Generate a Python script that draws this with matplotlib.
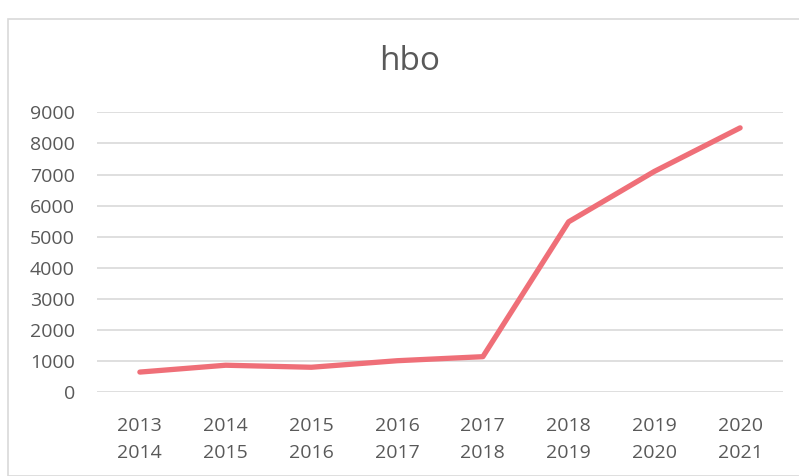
import matplotlib
matplotlib.use("Agg")
import matplotlib.pyplot as plt
from matplotlib.patches import Rectangle

categories = ["2013\n2014", "2014\n2015", "2015\n2016", "2016\n2017",
              "2017\n2018", "2018\n2019", "2019\n2020", "2020\n2021"]
values = [650, 870, 805, 1015, 1145, 5480, 7100, 8500]
y_ticks = list(range(0, 10000, 1000))

plt.rcParams['font.family'] = ['Open Sans', 'DejaVu Sans']
text_color = "#595959"

fig = plt.figure(figsize=(7.99, 4.76), dpi=100)
fig.patches.append(Rectangle((8/799, 0), 1.0, (476-19)/476, transform=fig.transFigure,
                             fill=False, edgecolor="#D9D9D9", linewidth=1.2))

ax = fig.add_axes([97/799, (476-392.3)/476, 686/799, (392.3-112.3)/476])
x = list(range(len(categories)))
ax.plot(x, values, color="#EF6F78", linewidth=3.8, solid_capstyle="round", solid_joinstyle="round", zorder=3)
ax.set_xlim(-0.5, len(categories) - 0.5)
ax.set_ylim(0, 9000)
ax.set_yticks(y_ticks)
ax.set_yticklabels([str(v) for v in y_ticks])
ax.set_xticks(x)
ax.set_xticklabels(categories, linespacing=1.6)
ax.grid(axis="y", color="#D9D9D9", linewidth=1.2)
ax.set_axisbelow(True)
for s in ax.spines.values():
    s.set_visible(False)
ax.tick_params(axis="both", length=0, labelsize=14, colors=text_color)
ax.tick_params(axis="y", pad=16)
ax.tick_params(axis="x", pad=18)
fig.text(410/799, 1 - 62/476, "hbo", ha="center", va="center", fontsize=24, color=text_color)

fig.savefig("out.png", dpi=100)
